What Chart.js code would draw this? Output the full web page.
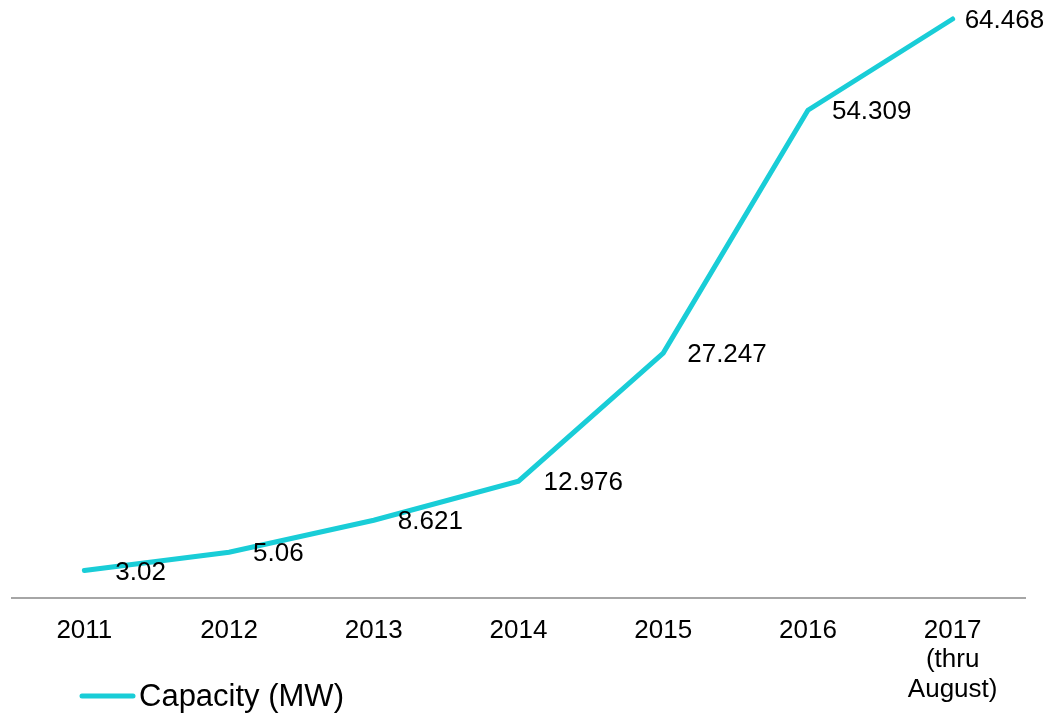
<!DOCTYPE html>
<html>
<head>
<meta charset="utf-8">
<script src="https://cdn.jsdelivr.net/npm/chart.js@4/dist/chart.umd.min.js"></script>
<style>
  html, body { margin: 0; padding: 0; background: #ffffff; }
  #wrap { width: 1063px; height: 713px; position: relative; }
</style>
</head>
<body>
<div id="wrap"><canvas id="c" width="1063" height="713"></canvas></div>
<script>
const categories = ['2011', '2012', '2013', '2014', '2015', '2016', '2017'];
const tickLabels = ['2011', '2012', '2013', '2014', '2015', '2016', ['2017', '(thru', 'August)']];
const capacityMW = [3.02, 5.06, 8.621, 12.976, 27.247, 54.309, 64.468];
const seriesName = 'Capacity (MW)';

const LINE_COLOR = '#19CDD7';
const FONT = "'Liberation Sans', Arial, sans-serif";
const labelDx = [31, 24, 24, 25, 24, 24, 12];

const dataLabels = {
  id: 'dataLabels',
  afterDatasetsDraw(chart) {
    const ctx = chart.ctx;
    const meta = chart.getDatasetMeta(0);
    ctx.save();
    ctx.font = '26px ' + FONT;
    ctx.fillStyle = '#000000';
    ctx.textAlign = 'left';
    ctx.textBaseline = 'middle';
    meta.data.forEach((pt, i) => {
      ctx.fillText(String(chart.data.datasets[0].data[i]), pt.x + labelDx[i], pt.y + 2);
    });
    ctx.restore();
  }
};

const customLegend = {
  id: 'customLegend',
  afterDraw(chart) {
    const ctx = chart.ctx;
    const ds = chart.data.datasets[0];
    ctx.save();
    ctx.strokeStyle = ds.borderColor;
    ctx.lineWidth = 5;
    ctx.lineCap = 'round';
    ctx.beginPath();
    ctx.moveTo(82, 696);
    ctx.lineTo(133, 696);
    ctx.stroke();
    ctx.font = '31px ' + FONT;
    ctx.fillStyle = '#000000';
    ctx.textAlign = 'left';
    ctx.textBaseline = 'middle';
    ctx.fillText(ds.label, 139, 697);
    ctx.restore();
  }
};

new Chart(document.getElementById('c'), {
  type: 'line',
  data: {
    labels: tickLabels,
    datasets: [{
      label: seriesName,
      data: capacityMW,
      borderColor: LINE_COLOR,
      backgroundColor: LINE_COLOR,
      borderWidth: 5,
      borderCapStyle: 'round',
      borderJoinStyle: 'miter',
      pointRadius: 0,
      tension: 0,
      clip: false
    }]
  },
  options: {
    responsive: false,
    animation: false,
    devicePixelRatio: 1,
    layout: { padding: { top: 19, left: 12, right: 38, bottom: -10 } },
    plugins: {
      legend: { display: false },
      tooltip: { enabled: false },
      title: { display: false }
    },
    scales: {
      x: {
        type: 'category',
        offset: true,
        grid: { display: false, drawTicks: false },
        border: { display: true, color: '#A6A6A6', width: 2 },
        ticks: {
          autoSkip: false,
          maxRotation: 0,
          minRotation: 0,
          padding: 19,
          color: '#000000',
          font: { family: FONT, size: 26, lineHeight: 1.12 }
        }
      },
      y: {
        display: false,
        min: 0,
        max: Math.max(...capacityMW)
      }
    }
  },
  plugins: [dataLabels, customLegend]
});
</script>
</body>
</html>
